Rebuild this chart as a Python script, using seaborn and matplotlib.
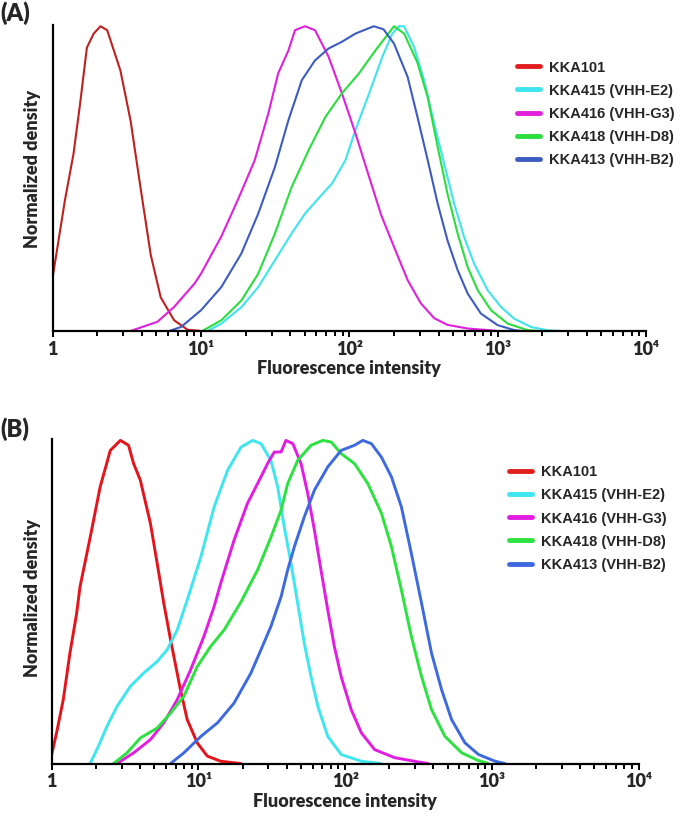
import pandas as pd
import seaborn as sns
import matplotlib.pyplot as plt

# ---------------------------------------------------------
# Data (x = intensity, y = normalized density)
# ---------------------------------------------------------
samples = ["KKA101", "KKA415 (VHH-E2)", "KKA416 (VHH-G3)", "KKA418 (VHH-D8)", "KKA413 (VHH-B2)"]

tick_values = [1, 10, 100, 1000, 10000]
tick_labels = ["1", "10\u00b9", "10\u00b2", "10\u00b3", "10\u2074"]

# panel A
a_red_x = [1.0, 1.21, 1.38, 1.53, 1.70, 1.89, 2.10, 2.33, 2.86, 3.35, 3.91, 4.58, 5.35, 6.59, 8.12, 10.0]
a_red_y = [0.177, 0.43, 0.58, 0.746, 0.93, 0.976, 1.0, 0.987, 0.855, 0.69, 0.47, 0.25, 0.11, 0.035, 0.004, 0.0]

a_cyan_x = [11.1, 13.7, 18.7, 24.3, 31.5, 40.8, 50.2, 61.9, 76.4, 94.0, 110, 136, 167, 195, 216, 234,
            273, 319, 373, 436, 509, 594, 695, 855, 1052, 1294, 1679, 2178, 2630]
a_cyan_y = [0.0, 0.024, 0.078, 0.144, 0.232, 0.32, 0.385, 0.435, 0.484, 0.56, 0.66, 0.78, 0.90, 0.976, 1.0, 1.0,
            0.932, 0.823, 0.68, 0.549, 0.418, 0.308, 0.22, 0.134, 0.079, 0.04, 0.013, 0.002, 0.0]

a_mag_x = [3.35, 5.08, 6.59, 9.02, 10.0, 13.7, 17.7, 23.0, 28.4, 33.1, 38.8, 43.0, 50.2, 58.7, 72.4,
           89.1, 110, 136, 164, 200, 247, 303, 373, 459, 627, 855, 1000]
a_mag_y = [0.0, 0.03, 0.079, 0.155, 0.188, 0.31, 0.43, 0.56, 0.713, 0.845, 0.92, 0.987, 1.0, 0.987, 0.90,
           0.78, 0.648, 0.505, 0.38, 0.276, 0.167, 0.091, 0.042, 0.02, 0.008, 0.003, 0.0]

a_green_x = [10.2, 13.7, 18.7, 24.3, 31.5, 40.8, 53.1, 68.9, 89.1, 116, 150, 200, 234, 288, 337, 394,
             459, 537, 627, 733, 902, 1170, 1585, 1860]
a_green_y = [0.0, 0.035, 0.10, 0.188, 0.32, 0.472, 0.593, 0.702, 0.78, 0.845, 0.921, 1.0, 0.976, 0.88, 0.768, 0.604,
             0.45, 0.32, 0.21, 0.134, 0.068, 0.024, 0.003, 0.0]

a_blue_x = [6.1, 7.33, 10.0, 13.7, 18.7, 24.3, 31.5, 38.8, 47.8, 58.7, 72.4, 89.1, 110, 146, 170, 200,
            247, 288, 337, 394, 459, 537, 627, 771, 1000, 1290, 1445]
a_blue_y = [0.0, 0.013, 0.068, 0.144, 0.254, 0.385, 0.538, 0.691, 0.823, 0.888, 0.927, 0.949, 0.976, 1.0, 0.99, 0.943,
            0.834, 0.702, 0.562, 0.418, 0.297, 0.2, 0.123, 0.057, 0.019, 0.003, 0.0]

# panel B
b_red_x = [1.0, 1.08, 1.20, 1.33, 1.48, 1.56, 1.83, 2.14, 2.51, 2.94, 3.34, 3.62, 4.02, 4.71, 5.24, 5.81,
           6.46, 7.55, 8.39, 9.82, 11.5, 14.2, 19.5]
b_red_y = [0.028, 0.095, 0.198, 0.34, 0.465, 0.547, 0.70, 0.856, 0.969, 1.0, 0.985, 0.928, 0.877, 0.743, 0.619, 0.496,
           0.383, 0.228, 0.136, 0.064, 0.023, 0.007, 0.0]

b_cyan_x = [1.83, 2.08, 2.38, 2.79, 3.44, 4.24, 5.24, 6.12, 7.18, 8.39, 10.4, 12.8, 15.8, 19.5, 23.4, 26.7,
            31.2, 34.7, 38.5, 42.8, 47.5, 52.7, 58.6, 65.2, 76.2, 94.0, 129, 176]
b_cyan_y = [0.0, 0.053, 0.115, 0.177, 0.239, 0.28, 0.316, 0.352, 0.414, 0.506, 0.64, 0.794, 0.907, 0.979, 1.0, 0.99,
            0.938, 0.856, 0.732, 0.619, 0.496, 0.372, 0.269, 0.177, 0.084, 0.028, 0.007, 0.0]

b_mag_x = [2.79, 3.62, 4.71, 5.81, 7.18, 8.85, 10.9, 12.8, 14.2, 17.5, 21.6, 26.7, 29.6, 32.9, 36.6, 39.5,
           44.0, 50.1, 55.6, 61.8, 68.5, 76.2, 84.5, 94.0, 110, 129, 159, 218, 315, 368]
b_mag_y = [0.0, 0.033, 0.074, 0.126, 0.198, 0.29, 0.393, 0.486, 0.558, 0.691, 0.805, 0.887, 0.928, 0.964, 0.964, 1.0,
           0.99, 0.928, 0.836, 0.722, 0.599, 0.475, 0.362, 0.269, 0.167, 0.095, 0.043, 0.018, 0.005, 0.0]

b_green_x = [2.64, 3.26, 4.02, 5.24, 6.46, 7.96, 9.82, 12.1, 15.0, 19.5, 25.3, 31.2, 36.6, 40.6, 47.5, 58.6,
             70.5, 80.4, 94.0, 116, 143, 177, 207, 242, 283, 332, 388, 479, 624, 811, 948]
b_green_y = [0.0, 0.033, 0.079, 0.11, 0.156, 0.208, 0.30, 0.362, 0.414, 0.50, 0.599, 0.70, 0.784, 0.866, 0.938, 0.985,
             1.0, 0.995, 0.959, 0.928, 0.866, 0.774, 0.671, 0.537, 0.393, 0.269, 0.167, 0.084, 0.033, 0.009, 0.0]

b_blue_x = [6.46, 7.96, 10.4, 13.5, 17.5, 22.8, 26.7, 31.2, 36.6, 40.6, 45.1, 52.7, 61.8, 76.2, 94.0, 116,
            132, 151, 177, 207, 242, 283, 332, 388, 455, 532, 656, 811, 1054, 1230]
b_blue_y = [0.0, 0.033, 0.084, 0.126, 0.187, 0.28, 0.352, 0.424, 0.516, 0.599, 0.671, 0.763, 0.846, 0.918, 0.969, 0.985,
            1.0, 0.99, 0.948, 0.887, 0.794, 0.65, 0.496, 0.342, 0.228, 0.136, 0.064, 0.028, 0.007, 0.0]


def long_form(xs, ys):
    frames = []
    for name, x, y in zip(samples, xs, ys):
        frames.append(pd.DataFrame({"intensity": x, "density": y, "sample": name}))
    return pd.concat(frames, ignore_index=True)


panel_a = long_form([a_red_x, a_cyan_x, a_mag_x, a_green_x, a_blue_x],
                    [a_red_y, a_cyan_y, a_mag_y, a_green_y, a_blue_y])
panel_b = long_form([b_red_x, b_cyan_x, b_mag_x, b_green_x, b_blue_x],
                    [b_red_y, b_cyan_y, b_mag_y, b_green_y, b_blue_y])

colors_a = {"KKA101": "#c0211f", "KKA415 (VHH-E2)": "#3ee4ee", "KKA416 (VHH-G3)": "#e020dc",
            "KKA418 (VHH-D8)": "#2ade3e", "KKA413 (VHH-B2)": "#3c5cc2"}
colors_b = {"KKA101": "#e5141b", "KKA415 (VHH-E2)": "#3ee6f0", "KKA416 (VHH-G3)": "#e31ce2",
            "KKA418 (VHH-D8)": "#2be23e", "KKA413 (VHH-B2)": "#3d6ae0"}

# ---------------------------------------------------------
# Plot
# ---------------------------------------------------------
sns.set_theme(style="white")
plt.rcParams["font.family"] = ["Lato", "DejaVu Sans"]

fig = plt.figure(figsize=(6.8, 8.18), dpi=100)
ax_a = fig.add_axes([0.0775, 0.5954, 0.8725, 0.374])
ax_b = fig.add_axes([0.076, 0.0666, 0.863, 0.3966])

setups = [
    (ax_a, panel_a, colors_a, 1.5, (0.760, 0.926), -0.020, 0.53),
    (ax_b, panel_b, colors_b, 2.1, (0.748, 0.431), -0.018, 0.51),
]

for ax, df, pal, lw, leg_pos, ylab_x, ylab_y in setups:
    sns.lineplot(data=df, x="intensity", y="density", hue="sample", hue_order=samples,
                 palette=pal, estimator=None, linewidth=lw, ax=ax)
    for line in ax.lines:
        line.set_solid_joinstyle("round")
    ax.set_xscale("log")
    ax.set_xlim(1, 10000)
    ax.set_ylim(0, 1.004)
    ax.set_xticks(tick_values)
    ax.set_xticklabels(tick_labels)
    ax.set_yticks([])
    for side in ["top", "right"]:
        ax.spines[side].set_visible(False)
    for side in ["left", "bottom"]:
        ax.spines[side].set_color("black")
        ax.spines[side].set_linewidth(1.6)
    ax.tick_params(axis="x", which="major", direction="out", length=4, width=1.4,
                   color="black", pad=3, labelsize=13, bottom=True)
    ax.tick_params(axis="x", which="minor", direction="out", length=3.5, width=1.4,
                   color="black", bottom=True)
    for lab in ax.get_xticklabels():
        lab.set_fontweight("heavy")
    ax.set_xlabel("Fluorescence intensity", fontsize=13, fontweight="heavy", labelpad=2)
    ax.set_ylabel("Normalized density", fontsize=13, fontweight="heavy")
    ax.yaxis.set_label_coords(ylab_x, ylab_y)

    handles, labels = ax.get_legend_handles_labels()
    leg = ax.legend(handles, labels, loc="upper left", bbox_to_anchor=leg_pos,
                    bbox_transform=fig.transFigure, frameon=False, borderpad=0,
                    borderaxespad=0, handlelength=1.6, handletextpad=0.6,
                    labelspacing=0.62,
                    prop={"family": "Liberation Sans", "weight": "bold", "size": 10.5})
    for line in leg.get_lines():
        line.set_linewidth(3.5)
    leg.get_lines()[0].set_color("#e31e1e")

fig.text(0.0, 0.999, "(A)", fontsize=17, fontweight="heavy", ha="left", va="top")
fig.text(0.0, 0.490, "(B)", fontsize=17, fontweight="heavy", ha="left", va="top")

fig.savefig("out.png", dpi=100)
